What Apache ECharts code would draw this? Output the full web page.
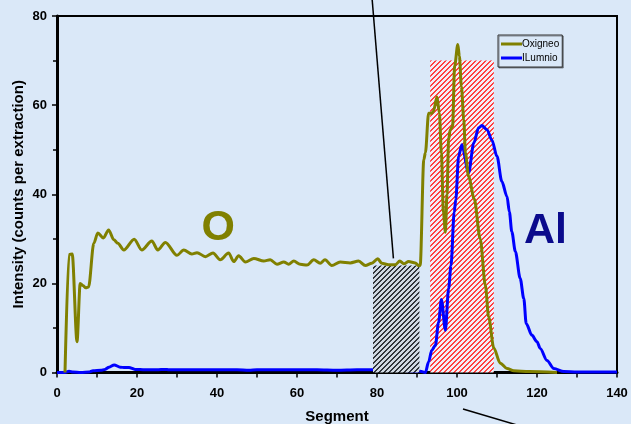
<!DOCTYPE html>
<html>
<head>
<meta charset="utf-8">
<script src="https://cdn.jsdelivr.net/npm/echarts@6/dist/echarts.min.js"></script>
<style>
html,body{margin:0;padding:0;background:#dae8f8;}
#c{width:631px;height:424px;}
</style>
</head>
<body>
<div id="c"></div>
<script>
// ---- data ----
const seriesNames = ['Oxigneo', 'ILumnio'];
const xTicks = [0, 20, 40, 60, 80, 100, 120, 140];
const yTicks = [0, 20, 40, 60, 80];

const oxySeg = [2,3,3.8,5,5.8,6.5,7.2,7.9,9.2,10.2,11.6,12.9,14.2,15.2,16.7,19.3,21.2,23.7,25.2,27.1,30,31.7,33.7,35,37.1,39,40.8,42.9,44.2,45.4,47.1,49.2,51.7,53.3,55,56.7,57.9,59.2,60.8,62.5,64.2,65.8,67,68.7,70.8,73.3,75.4,77.1,78.7,80.2,81.2,82.9,84.6,85.7,86.7,87.9,89.6,90.4,90.8,91.7,92.1,92.9,93.7,94.1,95,95.6,96.1,96.6,97.1,97.5,97.9,98.3,98.9,99.4,100.2,100.6,101.1,101.7,102.1,102.9,104.3,105.8,107.1,107.9,109.2,110.8,112.5,114.2,118,125];
const oxyVal = [0,26.5,26.6,6.9,20,19.5,19,19.2,29,31.3,30.2,32,29.8,29,27.5,29.9,27.5,29.5,27.5,29.2,26.3,27.5,26.6,26.9,26,26.8,25.3,26.8,24.9,26.2,24.8,25.6,25,25.3,24.3,24.8,24.3,25,24.3,24.1,25.3,24.5,25.3,24,24.8,24.6,25,24,24.5,25.5,24.5,24.2,24.2,25,24.4,24.9,24.6,24,24,47.8,49.3,58.2,58.2,58.6,61.8,58.2,49.2,36,31.5,40,52.2,54.5,55.2,68.7,73.6,71,64.2,56.7,49.3,44,39,30,19.5,12.5,5.5,2.1,0.9,0.4,0.2,0];

const alSeg = [0,2,3,4,6,8,9,11,12,13,14.3,15.8,17,18,19.5,22,25,27,28,33,38,45,48,50,55,60,65,70,75,79,85,90.8,92.1,92.9,93.7,94.6,95.4,96.1,97.1,97.9,98.5,99.3,99.7,100.4,101.2,102.9,104.2,105.4,106.2,107.5,108.7,110,111.2,112.5,113.1,113.7,114.6,115.8,116.7,117.3,118.7,120,120.8,122.5,124.2,126.7,130,140];
const alVal = [0,0,0.3,0.1,0,0.1,0.4,0.5,0.7,1.2,1.7,1.2,1.1,1.1,0.7,0.6,0.6,0.7,0.6,0.6,0.6,0.6,0.5,0.6,0.6,0.6,0.6,0.5,0.6,0.6,0.5,0.3,0,2.4,5,6.1,11.3,16.4,9.5,18.8,24,36,38.8,48.5,51.1,44.8,51.5,54.9,55.4,54.5,52.2,48.5,42.9,39.5,36,31.6,27.1,21.1,16.6,11,8.4,6.9,5.4,2.7,0.9,0.2,0.1,0.1];

// hatched regions: [start segment, end segment, top intensity]
const grayRegion = [79, 90.6, 24];
const redRegion = [93.3, 109.2, 70];

// annotations in data coordinates
const pointer1 = [[78.8, 83.6], [84.1, 25.6]];
const pointer2 = [[101.5, -8.2], [126, -14.7]];
const labelO = ['O', 40.3, 32.3];
const labelAl = ['Al', 122.1, 31.8];

// ---- build ----
const BG = '#dae8f8';
const FONT = '"Liberation Sans", Arial, sans-serif';

function makeHatch(fg, bg, period, w) {
  const c = document.createElement('canvas');
  c.width = period; c.height = period;
  const ctx = c.getContext('2d');
  ctx.fillStyle = bg; ctx.fillRect(0, 0, period, period);
  ctx.fillStyle = fg;
  for (let x = 0; x < period; x++) for (let y = 0; y < period; y++) {
    if ((x + y) % period < w) ctx.fillRect(x, y, 1, 1);
  }
  return c;
}
const redPat = { image: makeHatch('#ff4040', '#f3eef6', 5, 2), repeat: 'repeat' };
const grayPat = { image: makeHatch('#30343a', '#d0d9e3', 5, 2), repeat: 'repeat' };

function zip(a, b) { return a.map((v, i) => [v, b[i]]); }

function rectRender(pat) {
  return function (params, api) {
    const p0 = api.coord([api.value(0), api.value(2)]);
    const p1 = api.coord([api.value(1), 0]);
    return { type: 'rect', shape: { x: p0[0], y: p0[1], width: p1[0] - p0[0], height: p1[1] - p0[1] }, style: { fill: pat } };
  };
}

const chart = echarts.init(document.getElementById('c'), null, { renderer: 'canvas' });
chart.setOption({
  backgroundColor: BG,
  animation: false,
  textStyle: { fontFamily: FONT },
  grid: { left: 57, right: 14, top: 16, bottom: 51.5, show: true, borderColor: '#000', borderWidth: 2, backgroundColor: 'transparent',
          containLabel: false, outerBoundsMode: 'none' },
  legend: {
    data: seriesNames, orient: 'vertical', left: 498, top: 35,
    icon: 'rect', itemWidth: 21, itemHeight: 3, itemGap: 4,
    padding: [4, 3, 4, 3], borderColor: '#333', borderWidth: 1,
    backgroundColor: BG, shadowColor: 'rgba(0,0,0,0.4)', shadowOffsetX: 1, shadowOffsetY: 1,
    textStyle: { fontSize: 10, color: '#000', fontFamily: FONT, padding: [0, 0, 0, -5] }
  },
  xAxis: {
    type: 'value', min: xTicks[0], max: xTicks[xTicks.length - 1], interval: 20,
    name: 'Segment', nameLocation: 'middle', nameGap: 37, nameMoveOverlap: false,
    nameTextStyle: { fontSize: 15, fontWeight: 'bold', color: '#000', fontFamily: FONT },
    axisLine: { lineStyle: { color: '#000', width: 3 } },
    axisTick: { show: true, length: 5, lineStyle: { color: '#000', width: 1.5 } },
    minorTick: { show: true, splitNumber: 2, length: 5, lineStyle: { color: '#000', width: 1.5 } },
    axisLabel: { fontSize: 13, fontWeight: 'bold', color: '#000', margin: 14, fontFamily: FONT },
    splitLine: { show: false }
  },
  yAxis: {
    type: 'value', min: yTicks[0], max: yTicks[yTicks.length - 1], interval: 20,
    name: 'Intensity (counts per extraction)', nameLocation: 'middle', nameGap: 31, nameMoveOverlap: false,
    nameTextStyle: { fontSize: 15, fontWeight: 'bold', color: '#000', fontFamily: FONT },
    axisLine: { show: true, lineStyle: { color: '#000', width: 3 } },
    axisTick: { show: true, length: 5, lineStyle: { color: '#000', width: 1.5 } },
    minorTick: { show: true, splitNumber: 2, length: 4, lineStyle: { color: '#000', width: 1.5 } },
    axisLabel: { fontSize: 13, fontWeight: 'bold', color: '#000', margin: 10, fontFamily: FONT },
    splitLine: { show: false }
  },
  series: [
    { type: 'custom', name: 'redHatch', z: 1, renderItem: rectRender(redPat), encode: { x: [0, 1], y: 2 }, data: [redRegion], silent: true },
    { type: 'line', name: seriesNames[0], z: 3, data: zip(oxySeg, oxyVal), showSymbol: false, smooth: 0.3, smoothMonotone: 'x',
      lineStyle: { color: '#808000', width: 3 }, itemStyle: { color: '#808000' } },
    { type: 'line', name: seriesNames[1], z: 2, data: zip(alSeg, alVal), showSymbol: false, smooth: 0.3, smoothMonotone: 'x',
      lineStyle: { color: '#0000ff', width: 3 }, itemStyle: { color: '#0000ff' } },
    { type: 'custom', name: 'grayHatch', z: 2.5, renderItem: rectRender(grayPat), encode: { x: [0, 1], y: 2 }, data: [grayRegion], silent: true }
  ]
});

function px(p) { return chart.convertToPixel({ gridIndex: 0 }, p); }
const a1 = px(pointer1[0]), b1 = px(pointer1[1]);
const a2 = px(pointer2[0]), b2 = px(pointer2[1]);
const pO = px([labelO[1], labelO[2]]), pAl = px([labelAl[1], labelAl[2]]);
chart.setOption({
  graphic: [
    { type: 'line', z: 10, shape: { x1: a1[0], y1: a1[1], x2: b1[0], y2: b1[1] }, style: { stroke: '#000', lineWidth: 1.5 } },
    { type: 'line', z: 10, shape: { x1: a2[0], y1: a2[1], x2: b2[0], y2: b2[1] }, style: { stroke: '#000', lineWidth: 1.5 } },
    { type: 'text', z: 10, x: pO[0], y: pO[1], style: { text: labelO[0], fill: '#808000', font: 'bold 43px ' + FONT, textAlign: 'center', textVerticalAlign: 'middle' } },
    { type: 'text', z: 10, x: pAl[0], y: pAl[1], style: { text: labelAl[0], fill: '#0a0a8c', font: 'bold 43px ' + FONT, textAlign: 'center', textVerticalAlign: 'middle' } }
  ]
});
</script>
</body>
</html>
